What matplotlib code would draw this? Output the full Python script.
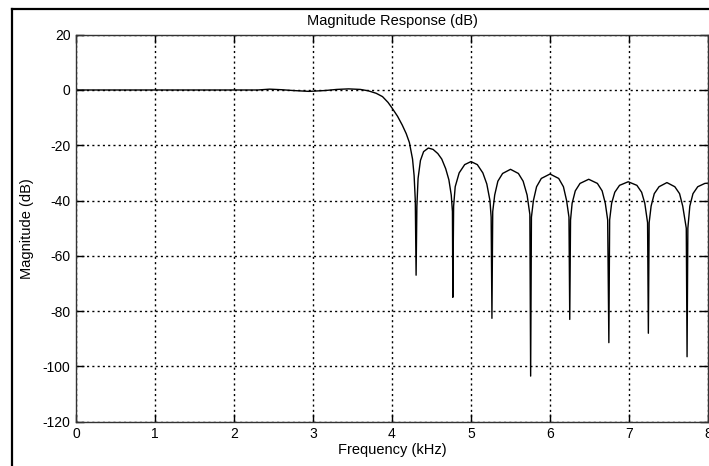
import matplotlib.pyplot as plt
from matplotlib.lines import Line2D

plt.rcParams['font.family'] = ['Liberation Sans', 'DejaVu Sans']
plt.rcParams['axes.unicode_minus'] = False

# frequency points (kHz) and magnitude (dB)
freq = [0.0, 1.0, 2.0, 2.3, 2.45, 2.6, 2.75, 2.95, 3.15, 3.3, 3.45, 3.6,
        3.7, 3.8, 3.88, 3.95, 4.0, 4.07, 4.13, 4.18, 4.22, 4.26, 4.28, 4.295,
        4.305, 4.315, 4.33, 4.36, 4.40, 4.46, 4.52, 4.58, 4.63, 4.68, 4.72,
        4.75, 4.765, 4.77, 4.78, 4.80, 4.85, 4.92, 5.0, 5.08, 5.15, 5.2,
        5.24, 5.255, 5.265, 5.275, 5.30, 5.34, 5.40, 5.50, 5.60, 5.66, 5.71,
        5.745, 5.755, 5.765, 5.79, 5.83, 5.89, 6.0, 6.11, 6.17, 6.21, 6.24,
        6.25, 6.26, 6.28, 6.32, 6.38, 6.49, 6.6, 6.66, 6.7, 6.73, 6.745,
        6.755, 6.78, 6.82, 6.88, 6.99, 7.1, 7.16, 7.2, 7.235, 7.245, 7.255,
        7.28, 7.32, 7.38, 7.48, 7.58, 7.64, 7.68, 7.725, 7.735, 7.745, 7.77,
        7.81, 7.87, 7.96, 8.0]
mag = [0.0, 0.0, 0.0, 0.0, 0.3, 0.1, -0.2, -0.5, -0.2, 0.2, 0.4, 0.2,
       -0.3, -1.2, -2.4, -4.5, -6.5, -9.5, -12.7, -15.8, -19, -25, -31, -40,
       -67, -42, -32, -25.5, -22.3, -21, -21.5, -23, -25, -28.5, -32.5,
       -38, -44, -75, -42, -35, -30, -27, -25.9, -27, -30, -34,
       -40, -46, -82.6, -44, -38, -33, -30.2, -28.7, -30.2, -33, -38,
       -45, -103.5, -46, -40, -35, -32, -30.4, -32, -35, -40, -46,
       -83, -47, -41, -36.5, -33.8, -32.3, -33.8, -36.5, -41, -47, -91.4,
       -47, -41, -37, -34.5, -33.2, -34.5, -37, -41, -48, -88, -48,
       -42, -37.5, -35, -33.5, -35, -37.5, -42, -50, -96.5, -50, -42,
       -37.5, -35, -33.8, -33.7]

xticks = [0, 1, 2, 3, 4, 5, 6, 7, 8]
yticks = [-120, -100, -80, -60, -40, -20, 0, 20]

fig = plt.figure(figsize=(7.09, 4.66), dpi=100)
ax = fig.add_axes([76 / 709, 1 - 421.7 / 466, (708 - 76) / 709, (421.7 - 34.7) / 466])

ax.plot(freq, mag, color='black', lw=1.0)

ax.set_xlim(0, 8)
ax.set_ylim(-120, 20)
ax.set_xticks(xticks)
ax.set_yticks(yticks)
ax.grid(True, color='black', lw=1.0, linestyle=(0, (1.5, 2.3)))
ax.tick_params(direction='in', length=6, width=1.0, top=True, right=True,
               labelsize=10, colors='black', pad=4)
for s in ax.spines.values():
    s.set_linewidth(1.0)
    s.set_color('#333333')

ax.set_title('Magnitude Response (dB)', fontsize=10.5, pad=7)
ax.set_xlabel('Frequency (kHz)', fontsize=10.5, labelpad=1)
ax.set_ylabel('Magnitude (dB)', fontsize=10.5, labelpad=6)

# thick frame of the cropped figure (left and top edges)
fig.add_artist(Line2D([11.5 / 709, 11.5 / 709], [0, 1 - 9.3 / 466], color='black', lw=1.6))
fig.add_artist(Line2D([11.5 / 709, 1], [1 - 9.3 / 466, 1 - 9.3 / 466], color='black', lw=1.6))

fig.savefig('out.png', dpi=100)
